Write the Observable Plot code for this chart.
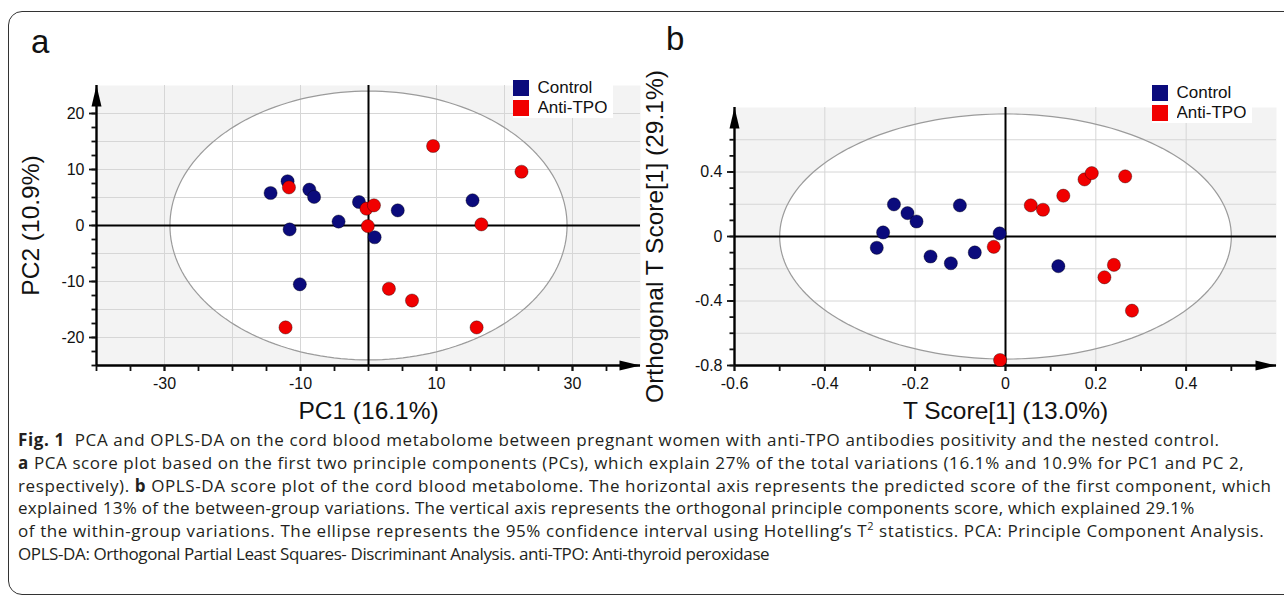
<!DOCTYPE html>
<html>
<head>
<meta charset="utf-8">
<script src="https://cdn.jsdelivr.net/npm/d3@7"></script>
<script src="https://cdn.jsdelivr.net/npm/@observablehq/plot@0.6"></script>
<style>
  html, body { margin: 0; padding: 0; background: #fff; }
  #fig { position: relative; width: 1284px; height: 599px; overflow: hidden; background: #fff; }
  .border { position: absolute; left: 8px; top: 11px; width: 1300px; height: 584px; border: 1.5px solid #333; border-radius: 14px; box-sizing: border-box; }
  .letter { position: absolute; font-family: "Liberation Sans", Arial, sans-serif; font-size: 33px; line-height: 33px; color: #111; }
  .lg { position: absolute; background: #fff; padding: 0 6px 0 0; }
  #caption { position: absolute; left: 18px; top: 429px; font-family: "Open Sans", "Noto Sans", sans-serif; font-size: 17px; letter-spacing: 0.6px; line-height: 22.8px; color: #231f20; }
  #caption div { white-space: nowrap; }
  #caption sup { font-size: 11px; line-height: 0; }
</style>
</head>
<body>
<div id="fig">
  <div class="border"></div>
  <div class="letter" style="left:31px;top:25px">a</div>
  <div class="letter" style="left:666px;top:22px">b</div>
  <div id="pa" style="position:absolute;left:0;top:0"></div>
  <div id="pb" style="position:absolute;left:640px;top:0"></div>
  <div id="lga" class="lg" style="left:513px;top:78px"></div>
  <div id="lgb" class="lg" style="left:1152px;top:83px"></div>
  <div id="caption">
    <div><b>Fig. 1</b>&nbsp; PCA and OPLS-DA on the cord blood metabolome between pregnant women with anti-TPO antibodies positivity and the nested control.</div>
    <div><b>a</b> PCA score plot based on the first two principle components (PCs), which explain 27% of the total variations (16.1% and 10.9% for PC1 and PC 2,</div>
    <div>respectively). <b>b</b> OPLS-DA score plot of the cord blood metabolome. The horizontal axis represents the predicted score of the first component, which</div>
    <div style="letter-spacing:0.3px">explained 13% of the between-group variations. The vertical axis represents the orthogonal principle components score, which explained 29.1%</div>
    <div>of the within-group variations. The ellipse represents the 95% confidence interval using Hotelling’s T<sup>2</sup> statistics. PCA: Principle Component Analysis.</div>
    <div style="letter-spacing:-0.4px">OPLS-DA: Orthogonal Partial Least Squares- Discriminant Analysis. anti-TPO: Anti-thyroid peroxidase</div>
  </div>
</div>
<script>
// ---------- data ----------
const groups = ["Control", "Anti-TPO"];
const groupColors = ["#0b0b7c", "#f10000"];

// Panel a: PCA scores
const pcaControlPC1 = [-14.4, -11.9, -8.7, -8.0, -1.4, 4.3, -4.4, -11.6, 0.9, -10.1, 15.3];
const pcaControlPC2 = [5.8, 7.9, 6.4, 5.1, 4.2, 2.7, 0.7, -0.7, -2.1, -10.5, 4.5];
const pcaAntiPC1 = [-11.7, -0.3, 0.8, -0.1, 3.0, 6.4, -12.2, 9.5, 22.5, 16.6, 15.9];
const pcaAntiPC2 = [6.8, 3.0, 3.6, -0.1, -11.3, -13.4, -18.2, 14.2, 9.6, 0.2, -18.2];

// Panel b: OPLS-DA scores
const oplsControlT = [-0.247, -0.217, -0.197, -0.101, -0.271, -0.285, -0.166, -0.121, -0.068, -0.013, 0.117];
const oplsControlO = [0.199, 0.145, 0.093, 0.193, 0.025, -0.070, -0.124, -0.166, -0.099, 0.019, -0.184];
const oplsAntiT = [-0.026, -0.012, 0.056, 0.083, 0.128, 0.175, 0.191, 0.265, 0.240, 0.219, 0.280];
const oplsAntiO = [-0.064, -0.766, 0.193, 0.166, 0.253, 0.354, 0.393, 0.373, -0.176, -0.253, -0.460];

// Hotelling T2 ellipse radii (x, y)
const ellipseA = [29.2, 24];
const ellipseB = [0.5, 0.76];

// Axes
const xDomainA = [-40, 40], yDomainA = [-25, 25];
const xTickLabelsA = [-30, -10, 10, 30];
const xTicksA = [-40, -35, -30, -25, -20, -15, -10, -5, 0, 5, 10, 15, 20, 25, 30, 35];
const yTickLabelsA = [-20, -10, 0, 10, 20];
const yTicksA = [-25, -22.5, -20, -17.5, -15, -12.5, -10, -7.5, -5, -2.5, 0, 2.5, 5, 7.5, 10, 12.5, 15, 17.5, 20];
const xGridA = [-30, -20, -10, 0, 10, 20, 30];
const yGridA = [-20, -15, -10, -5, 0, 5, 10, 15, 20];

const xDomainB = [-0.6, 0.6], yDomainB = [-0.8, 0.8];
const xTickLabelsB = [-0.6, -0.4, -0.2, 0, 0.2, 0.4];
const xTicksB = [-0.6, -0.5, -0.4, -0.3, -0.2, -0.1, 0, 0.1, 0.2, 0.3, 0.4, 0.5];
const yTickLabelsB = [-0.8, -0.4, 0, 0.4];
const yTicksB = [-0.8, -0.7, -0.6, -0.5, -0.4, -0.3, -0.2, -0.1, 0, 0.1, 0.2, 0.3, 0.4, 0.5, 0.6];
const xGridB = [-0.4, -0.2, 0, 0.2, 0.4];
const yGridB = [-0.6, -0.4, -0.2, 0, 0.2, 0.4, 0.6];

const labelsA = {x: "PC1 (16.1%)", y: "PC2 (10.9%)"};
const labelsB = {x: "T Score[1] (13.0%)", y: "Orthogonal T Score[1] (29.1%)"};

// ---------- build tables ----------
function table(cx, cy, ax, ay) {
  return [
    ...cx.map((v, i) => ({x: v, y: cy[i], group: groups[0]})),
    ...ax.map((v, i) => ({x: v, y: ay[i], group: groups[1]}))
  ];
}
function ellipsePoints([rx, ry]) {
  return d3.range(0, 361, 2).map(a => ({x: rx * Math.cos(a * Math.PI / 180), y: ry * Math.sin(a * Math.PI / 180)}));
}
const arrowHead = {
  draw(ctx) { ctx.moveTo(0, 0); ctx.lineTo(5, 21); ctx.lineTo(-5, 21); ctx.closePath(); }
};

function panel(opts) {
  const {data, ell, xDom, yDom, xTicks, xLab, yTicks, yLab, xGrid, yGrid, labels, width, height, margins, yLabelDx, order} = opts;
  const pts = ellipsePoints(ell);
  const fmt = d => String(d);
  const dots = order.map(g => Plot.dot(data.filter(d => d.group === g), {
    x: "x", y: "y", fill: "group", r: 6.6, stroke: "#000", strokeOpacity: 0.35, strokeWidth: 1
  }));
  return Plot.plot({
    width, height,
    marginLeft: margins[0], marginRight: margins[1], marginTop: margins[2], marginBottom: margins[3],
    x: {domain: xDom},
    y: {domain: yDom},
    color: {domain: groups, range: groupColors},
    style: {fontFamily: "'Liberation Sans', Arial, sans-serif", fontSize: "16px", color: "#111", background: "transparent", overflow: "visible"},
    marks: [
      Plot.frame({fill: "#f3f3f3", stroke: "none"}),
      Plot.line(pts, {x: "x", y: "y", fill: "#fff", stroke: "none"}),
      Plot.gridX(xGrid, {stroke: "#d6d6d6", strokeOpacity: 1, strokeWidth: 1}),
      Plot.gridY(yGrid, {stroke: "#d6d6d6", strokeOpacity: 1, strokeWidth: 1}),
      Plot.line(pts, {x: "x", y: "y", stroke: "#9b9b9b", strokeWidth: 1.2}),
      Plot.ruleX([0], {stroke: "#000", strokeWidth: 2}),
      Plot.ruleY([0], {stroke: "#000", strokeWidth: 2}),
      Plot.ruleX([xDom[0]], {stroke: "#000", strokeWidth: 2.4}),
      Plot.ruleY([yDom[0]], {stroke: "#000", strokeWidth: 2.4}),
      Plot.axisX({ticks: xTicks, tickSize: 6, tickFormat: () => "", strokeWidth: 1.8, label: null}),
      Plot.axisX({ticks: xLab, tickSize: 6, tickPadding: 6, tickFormat: fmt, strokeWidth: 1.8, label: null, fontSize: 16}),
      Plot.axisY({ticks: yTicks, tickSize: 4.5, tickFormat: () => "", strokeWidth: 1.8, label: null}),
      Plot.axisY({ticks: yLab, tickSize: 7, tickPadding: 5, tickFormat: fmt, strokeWidth: 1.8, label: null, fontSize: 16}),
      ...dots,
      Plot.dot([{x: xDom[0], y: yDom[1]}], {x: "x", y: "y", symbol: arrowHead, fill: "#000", stroke: "none"}),
      Plot.dot([{x: xDom[1], y: yDom[0]}], {x: "x", y: "y", symbol: arrowHead, rotate: 90, fill: "#000", stroke: "none"}),
      Plot.text([labels.x], {text: d => d, frameAnchor: "bottom", textAnchor: "middle", lineAnchor: "middle", dy: 46, fontSize: 24.5, fill: "#111"}),
      Plot.text([labels.y], {text: d => d, frameAnchor: "left", textAnchor: "middle", lineAnchor: "middle", dx: yLabelDx, rotate: -90, fontSize: 24.5, fill: "#111"})
    ]
  });
}

document.getElementById("pa").append(panel({
  data: table(pcaControlPC1, pcaControlPC2, pcaAntiPC1, pcaAntiPC2),
  ell: ellipseA, xDom: xDomainA, yDom: yDomainA,
  xTicks: xTicksA, xLab: xTickLabelsA, yTicks: yTicksA, yLab: yTickLabelsA,
  xGrid: xGridA, yGrid: yGridA, labels: labelsA,
  width: 650, height: 430, margins: [96, 10, 85, 65], yLabelDx: -65,
  order: ["Control", "Anti-TPO"]
}));

document.getElementById("pb").append(panel({
  data: table(oplsControlT, oplsControlO, oplsAntiT, oplsAntiO),
  ell: ellipseB, xDom: xDomainB, yDom: yDomainB,
  xTicks: xTicksB, xLab: xTickLabelsB, yTicks: yTicksB, yLab: yTickLabelsB,
  xGrid: xGridB, yGrid: yGridB, labels: labelsB,
  width: 644, height: 430, margins: [94, 8, 107, 65], yLabelDx: -79,
  order: ["Anti-TPO", "Control"]
}));

function legend() {
  return Plot.legend({
    color: {domain: groups, range: groupColors},
    legend: "swatches", swatchSize: 16, columns: 1,
    style: {fontFamily: "'Liberation Sans', Arial, sans-serif", fontSize: "17px", color: "#111", margin: "0", lineHeight: "19px"}
  });
}
document.getElementById("lga").append(legend());
document.getElementById("lgb").append(legend());
</script>
</body>
</html>
